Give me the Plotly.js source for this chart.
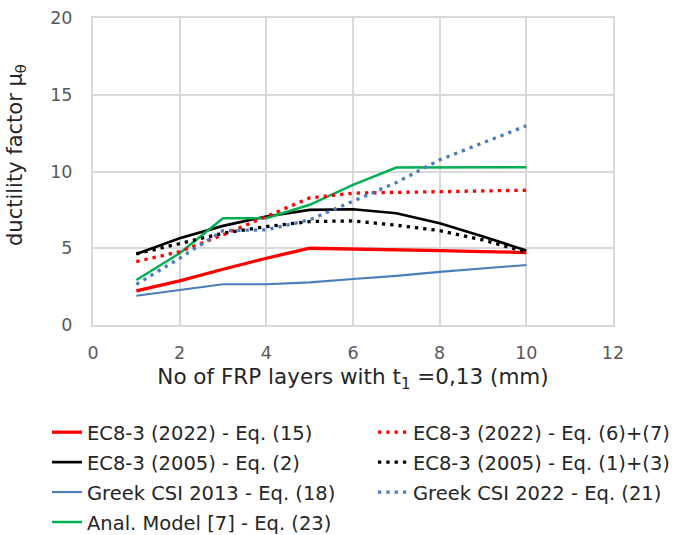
<!DOCTYPE html>
<html>
<head>
<meta charset="utf-8">
<script src="https://cdn.plot.ly/plotly-3.0.1.min.js"></script>
<style>html,body{margin:0;padding:0;background:#fff;}#chart{width:674px;height:535px;}</style>
</head>
<body>
<div id="chart"></div>
<script>
const layers = [1, 2, 3, 4, 5, 6, 7, 8, 9, 10];
const ec8_2022_eq15 = [2.22, 2.87, 3.63, 4.35, 5.0, 4.96, 4.89, 4.85, 4.78, 4.72];
const ec8_2005_eq2 = [4.63, 5.65, 6.46, 7.07, 7.5, 7.54, 7.28, 6.63, 5.76, 4.85];
const greek2013_eq18 = [1.91, 2.28, 2.65, 2.65, 2.78, 3.0, 3.2, 3.46, 3.67, 3.91];
const anal_eq23 = [2.93, 4.67, 6.96, 6.96, 7.83, 9.13, 10.26, 10.26, 10.27, 10.28];
const ec8_2022_eq67 = [4.13, 4.78, 5.87, 7.1, 8.28, 8.59, 8.65, 8.7, 8.74, 8.78];
const ec8_2005_eq13 = [4.63, 5.33, 5.98, 6.41, 6.74, 6.78, 6.5, 6.15, 5.54, 4.74];
const greek2022_eq21 = [2.65, 4.35, 6.15, 6.2, 6.85, 8.05, 9.28, 10.76, 11.85, 12.98];
const seriesNames = [
  "EC8-3 (2022) - Eq. (15)",
  "EC8-3 (2005) - Eq. (2)",
  "Greek CSI 2013 - Eq. (18)",
  "Anal. Model [7] - Eq. (23)",
  "EC8-3 (2022) - Eq. (6)+(7)",
  "EC8-3 (2005) - Eq. (1)+(3)",
  "Greek CSI 2022 - Eq. (21)"
];
const xTicks = [0, 2, 4, 6, 8, 10, 12];
const yTicks = [0, 5, 10, 15, 20];
const xTitle = 'No of FRP layers with t<sub>1</sub> =0,13 (mm)';
const yTitle = 'ductility factor μ<sub>θ</sub>';

const dotDash = "3.3px,5px";
function tr(y, i, color, width, dash, legend) {
  return {
    x: layers, y: y, name: seriesNames[i], type: 'scatter', mode: 'lines',
    line: {color: color, width: width, dash: dash},
    legend: legend, legendgroup: 'g' + i, hoverinfo: 'skip'
  };
}
const data = [
  tr(ec8_2022_eq15, 0, '#FF0000', 3.3, 'solid', 'legend'),
  tr(ec8_2005_eq2, 1, '#000000', 2.7, 'solid', 'legend'),
  tr(greek2013_eq18, 2, '#4A7EBB', 2.1, 'solid', 'legend'),
  tr(anal_eq23, 3, '#00B050', 2.5, 'solid', 'legend'),
  tr(ec8_2022_eq67, 4, '#FF0000', 3.3, dotDash, 'legend2'),
  tr(ec8_2005_eq13, 5, '#000000', 3.3, dotDash, 'legend2'),
  tr(greek2022_eq21, 6, '#4A7EBB', 3.3, dotDash, 'legend2')
];
const fontFam = 'Verdana, "DejaVu Sans", sans-serif';
const legendBase = {
  bgcolor: 'rgba(0,0,0,0)', borderwidth: 0,
  xanchor: 'left', yanchor: 'top', orientation: 'v',
  xref: 'container', yref: 'container', itemwidth: 30, tracegroupgap: 1.6
};
const layout = {
  width: 674, height: 535,
  margin: {l: 93, r: 61, t: 18, b: 210, autoexpand: false},
  paper_bgcolor: '#ffffff', plot_bgcolor: '#ffffff',
  font: {family: fontFam, color: '#595959'},
  showlegend: true,
  xaxis: {
    range: [0, 12], tickvals: xTicks, ticktext: xTicks.map(String),
    showgrid: true, gridcolor: '#D9D9D9', gridwidth: 2,
    showline: true, linecolor: '#D9D9D9', linewidth: 2, mirror: true,
    zeroline: false, ticks: '', ticklabelstandoff: 11,
    tickfont: {family: fontFam, size: 17.5, color: '#595959'},
    title: {text: xTitle, font: {family: fontFam, size: 21.5, color: '#262626'}, standoff: 7}
  },
  yaxis: {
    range: [0, 20], tickvals: yTicks, ticktext: yTicks.map(String),
    showgrid: true, gridcolor: '#D9D9D9', gridwidth: 2,
    showline: true, linecolor: '#D9D9D9', linewidth: 2, mirror: true,
    zeroline: false, ticks: '', ticklabelstandoff: 15,
    tickfont: {family: fontFam, size: 17.5, color: '#595959'}
  },
  annotations: [{
    text: yTitle, textangle: -90, showarrow: false,
    xref: 'paper', yref: 'paper', x: (16 - 93) / 520, y: (325 - 155) / 307,
    xanchor: 'center', yanchor: 'middle',
    font: {family: fontFam, size: 21, color: '#262626'}
  }],
  legend: Object.assign({}, legendBase, {x: 47 / 674, y: 1 - 413 / 535,
    font: {family: fontFam, size: 19.5, color: '#262626'}}),
  legend2: Object.assign({}, legendBase, {x: 373 / 674, y: 1 - 413 / 535,
    font: {family: fontFam, size: 19.5, color: '#262626'}})
};
Plotly.newPlot('chart', data, layout, {staticPlot: true, displayModeBar: false});
</script>
</body>
</html>
